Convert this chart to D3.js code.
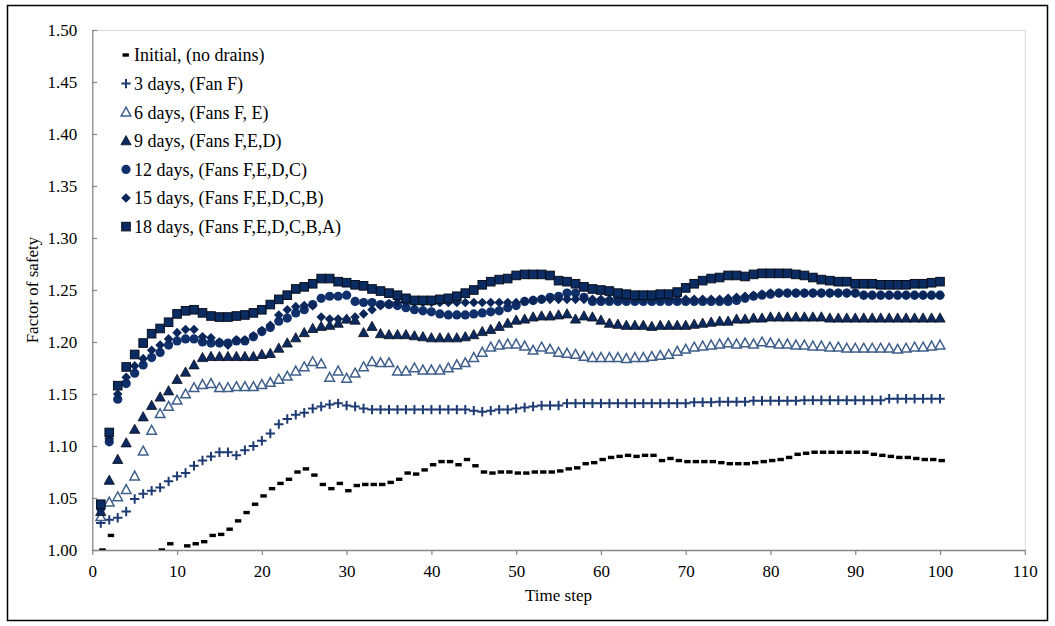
<!DOCTYPE html>
<html>
<head>
<meta charset="utf-8">
<script src="https://cdn.jsdelivr.net/npm/d3@7"></script>
<style>
  html, body { margin: 0; padding: 0; background: #fff; }
  svg { display: block; }
  text { font-family: "Liberation Serif", "Times New Roman", serif; fill: #000; }
</style>
</head>
<body>
<svg id="chart" width="1055" height="626"></svg>
<script>
// ---------- DATA ----------
const timeSteps = d3.range(1, 101);

const initialNoDrains = [
  1.000, 1.014, null, null, null, null, null, 1.000, 1.006, null,
  1.004, 1.006, 1.008, 1.014, 1.015, 1.020, 1.028, 1.036, 1.044, 1.052,
  1.059, 1.064, 1.068, 1.075, 1.078, 1.072, 1.063, 1.059, 1.064, 1.057,
  1.062, 1.063, 1.063, 1.063, 1.065, 1.068, 1.074, 1.073, 1.077, 1.082,
  1.085, 1.085, 1.082, 1.087, 1.081, 1.075, 1.074, 1.075, 1.075, 1.074,
  1.074, 1.075, 1.075, 1.075, 1.076, 1.078, 1.079, 1.083, 1.084, 1.087,
  1.089, 1.090, 1.091, 1.090, 1.091, 1.091, 1.086, 1.088, 1.086, 1.085,
  1.085, 1.085, 1.085, 1.084, 1.083, 1.083, 1.083, 1.084, 1.085, 1.086,
  1.087, 1.089, 1.092, 1.093, 1.094, 1.094, 1.094, 1.094, 1.094, 1.094,
  1.094, 1.092, 1.091, 1.090, 1.089, 1.089, 1.088, 1.087, 1.087, 1.086
];

const days3 = [
  1.026, 1.029, 1.031, 1.037, 1.049, 1.054, 1.057, 1.060, 1.066, 1.071,
  1.074, 1.081, 1.086, 1.090, 1.094, 1.094, 1.091, 1.096, 1.100, 1.105,
  1.112, 1.121, 1.126, 1.130, 1.132, 1.136, 1.138, 1.140, 1.141, 1.139,
  1.138, 1.136, 1.135, 1.135, 1.135, 1.135, 1.135, 1.135, 1.135, 1.135,
  1.135, 1.135, 1.135, 1.135, 1.134, 1.133, 1.134, 1.135, 1.135, 1.136,
  1.137, 1.138, 1.139, 1.139, 1.139, 1.141, 1.141, 1.141, 1.141, 1.141,
  1.141, 1.141, 1.141, 1.141, 1.141, 1.141, 1.141, 1.141, 1.141, 1.141,
  1.142, 1.142, 1.142, 1.1425, 1.1425, 1.1425, 1.1425, 1.1435, 1.1435, 1.1435,
  1.1435, 1.1435, 1.1435, 1.144, 1.144, 1.144, 1.144, 1.144, 1.144, 1.144,
  1.144, 1.144, 1.144, 1.1455, 1.1455, 1.1455, 1.1455, 1.1455, 1.1455, 1.1455
];

const days6 = [
  1.032, 1.046, 1.051, 1.058, 1.071, 1.095, 1.115, 1.131, 1.138, 1.144,
  1.150, 1.156, 1.159, 1.160, 1.156, 1.156, 1.157, 1.157, 1.157, 1.159,
  1.161, 1.164, 1.167, 1.172, 1.176, 1.181, 1.179, 1.166, 1.172, 1.165,
  1.170, 1.176, 1.181, 1.180, 1.180, 1.172, 1.172, 1.175, 1.173, 1.173,
  1.173, 1.175, 1.178, 1.180, 1.185, 1.190, 1.195, 1.197, 1.198, 1.198,
  1.196, 1.192, 1.195, 1.193, 1.190, 1.189, 1.188, 1.186, 1.185, 1.185,
  1.185, 1.185, 1.184, 1.185, 1.185, 1.186, 1.187, 1.188, 1.191, 1.193,
  1.195, 1.196, 1.197, 1.198, 1.199, 1.198, 1.199, 1.198, 1.200, 1.199,
  1.198, 1.198, 1.197, 1.197, 1.196, 1.196, 1.195, 1.195, 1.194, 1.194,
  1.194, 1.194, 1.194, 1.194, 1.193, 1.194, 1.195, 1.195, 1.196, 1.197
];

const days9 = [
  1.037, 1.067, 1.087, 1.103, 1.116, 1.128, 1.139, 1.147, 1.153, 1.164,
  1.171, 1.178, 1.185, 1.186, 1.186, 1.186, 1.186, 1.186, 1.186, 1.188,
  1.189, 1.194, 1.199, 1.204, 1.209, 1.213, 1.215, 1.216, 1.218, 1.222,
  1.221, 1.209, 1.215, 1.208, 1.207, 1.207, 1.207, 1.206, 1.205, 1.204,
  1.204, 1.204, 1.204, 1.205, 1.207, 1.210, 1.212, 1.215, 1.218, 1.221,
  1.222, 1.224, 1.225, 1.225, 1.226, 1.227, 1.222, 1.225, 1.224, 1.221,
  1.218, 1.217, 1.216, 1.216, 1.216, 1.215, 1.216, 1.216, 1.216, 1.216,
  1.217, 1.218, 1.219, 1.220, 1.220, 1.222, 1.222, 1.223, 1.223, 1.224,
  1.224, 1.224, 1.224, 1.224, 1.224, 1.224, 1.223, 1.223, 1.223, 1.223,
  1.223, 1.223, 1.223, 1.223, 1.223, 1.223, 1.223, 1.223, 1.223, 1.223
];

const days12 = [
  1.040, 1.104, 1.145, 1.160, 1.170, 1.178, 1.185, 1.190, 1.197, 1.201,
  1.203, 1.203, 1.200, 1.199, 1.199, 1.199, 1.201, 1.201, 1.205, 1.210,
  1.214, 1.220, 1.223, 1.228, 1.231, 1.236, 1.242, 1.244, 1.244, 1.245,
  1.239, 1.238, 1.238, 1.236, 1.236, 1.235, 1.233, 1.231, 1.230, 1.229,
  1.227, 1.226, 1.226, 1.226, 1.227, 1.228, 1.229, 1.230, 1.233, 1.235,
  1.239, 1.240, 1.241, 1.243, 1.244, 1.247, 1.247, 1.243, 1.239, 1.239,
  1.239, 1.239, 1.239, 1.239, 1.239, 1.239, 1.239, 1.239, 1.239, 1.239,
  1.239, 1.239, 1.239, 1.239, 1.239, 1.240, 1.242, 1.244, 1.245, 1.246,
  1.247, 1.247, 1.247, 1.247, 1.247, 1.247, 1.247, 1.247, 1.247, 1.247,
  1.245, 1.245, 1.245, 1.245, 1.245, 1.245, 1.245, 1.245, 1.245, 1.245
];

const days15 = [
  1.040, 1.107, 1.150, 1.166, 1.177, 1.184, 1.192, 1.197, 1.203, 1.209,
  1.212, 1.212, 1.205, 1.204, 1.200, 1.197, 1.202, 1.202, 1.206, 1.211,
  1.216, 1.226, 1.231, 1.234, 1.235, 1.235, 1.224, 1.222, 1.222, 1.222,
  1.224, 1.227, 1.231, 1.235, 1.237, 1.238, 1.238, 1.238, 1.238, 1.238,
  1.238, 1.238, 1.238, 1.238, 1.238, 1.238, 1.238, 1.238, 1.238, 1.238,
  1.239, 1.240, 1.241, 1.241, 1.241, 1.241, 1.241, 1.241, 1.241, 1.241,
  1.241, 1.241, 1.241, 1.241, 1.241, 1.241, 1.241, 1.241, 1.241, 1.241,
  1.241, 1.241, 1.241, 1.241, 1.242, 1.243, 1.244, 1.245, 1.246, 1.247,
  1.247, 1.247, 1.247, 1.247, 1.247, 1.247, 1.247, 1.247, 1.247, 1.247,
  1.245, 1.245, 1.245, 1.245, 1.245, 1.245, 1.245, 1.245, 1.245, 1.245
];

const days18 = [
  1.044, 1.113, 1.158, 1.176, 1.188, 1.199, 1.208, 1.213, 1.219, 1.227,
  1.230, 1.231, 1.228, 1.225, 1.224, 1.224, 1.225, 1.226, 1.228, 1.231,
  1.236, 1.241, 1.245, 1.251, 1.253, 1.256, 1.261, 1.261, 1.258, 1.257,
  1.255, 1.254, 1.251, 1.249, 1.247, 1.245, 1.242, 1.240, 1.240, 1.240,
  1.241, 1.242, 1.244, 1.247, 1.250, 1.255, 1.258, 1.260, 1.261, 1.264,
  1.265, 1.265, 1.265, 1.264, 1.259, 1.258, 1.256, 1.253, 1.251, 1.250,
  1.249, 1.247, 1.246, 1.245, 1.245, 1.245, 1.246, 1.246, 1.248, 1.252,
  1.256, 1.259, 1.261, 1.262, 1.264, 1.264, 1.263, 1.265, 1.266, 1.266,
  1.266, 1.266, 1.265, 1.264, 1.262, 1.260, 1.259, 1.258, 1.258, 1.256,
  1.256, 1.256, 1.255, 1.255, 1.255, 1.255, 1.256, 1.256, 1.257, 1.258
];

const seriesNames = [
  "Initial, (no drains)",
  "3 days, (Fan F)",
  "6 days, (Fans F, E)",
  "9 days, (Fans F,E,D)",
  "12 days, (Fans F,E,D,C)",
  "15 days, (Fans F,E,D,C,B)",
  "18 days, (Fans F,E,D,C,B,A)"
];
const seriesValues = [initialNoDrains, days3, days6, days9, days12, days15, days18];

const yTicks = [1.00, 1.05, 1.10, 1.15, 1.20, 1.25, 1.30, 1.35, 1.40, 1.45, 1.50];
const xTicks = [0, 10, 20, 30, 40, 50, 60, 70, 80, 90, 100, 110];
const xTitle = "Time step";
const yTitle = "Factor of safety";

// ---------- STYLE ----------
const markerStyles = [
  { kind: "dash" },
  { kind: "plus", color: "#1e3a72" },
  { kind: "triOpen", color: "#3f5f8b" },
  { kind: "triFill", color: "#0c2a5f" },
  { kind: "circle", color: "#10306c" },
  { kind: "diamond", color: "#0b2659" },
  { kind: "square", color: "#0b2b63" }
];

const plot = { left: 92.3, right: 1024.8, top: 30, bottom: 550 };

const svg = d3.select("#chart");

svg.append("rect").attr("x", 7.5).attr("y", 5.5).attr("width", 1040).attr("height", 615)
  .attr("fill", "#fff").attr("stroke", "#000").attr("stroke-width", 1.5);

const x = d3.scaleLinear().domain([0, 110]).range([plot.left, plot.right]);
const y = d3.scaleLinear().domain([1.0, 1.5]).range([plot.bottom, plot.top]);

svg.append("line").attr("x1", plot.left).attr("x2", plot.right).attr("y1", plot.top + 0.5).attr("y2", plot.top + 0.5)
  .attr("stroke", "#d9d9d9");
svg.append("line").attr("x1", plot.right + 0.5).attr("x2", plot.right + 0.5).attr("y1", plot.top).attr("y2", plot.bottom)
  .attr("stroke", "#d9d9d9");

const yAxis = d3.axisLeft(y).tickValues(yTicks).tickFormat(d3.format(".2f"))
  .tickSizeInner(-5).tickSizeOuter(0).tickPadding(15);
const gy = svg.append("g").attr("transform", `translate(${plot.left},0)`).call(yAxis);

const xAxis = d3.axisBottom(x).tickValues(xTicks).tickFormat(d3.format("d"))
  .tickSizeInner(5).tickSizeOuter(0).tickPadding(10);
const gx = svg.append("g").attr("transform", `translate(0,${plot.bottom})`).call(xAxis);

[gx, gy].forEach(g => {
  g.attr("font-family", "Liberation Serif, serif").attr("font-size", 17);
  g.selectAll("text").attr("font-size", 17).style("font-family", "'Liberation Serif', serif");
  g.select(".domain").attr("stroke", "#868686").attr("stroke-width", 1.3);
  g.selectAll(".tick line").attr("stroke", "#868686").attr("stroke-width", 1.2);
});

svg.append("text").attr("x", (plot.left + plot.right) / 2).attr("y", 601)
  .attr("text-anchor", "middle").attr("font-size", 17).text(xTitle);
svg.append("text").attr("transform", `translate(38,${(plot.top + plot.bottom) / 2}) rotate(-90)`)
  .attr("text-anchor", "middle").attr("font-size", 17).text(yTitle);

function drawMarker(g, kind, color) {
  switch (kind) {
    case "dash":
      g.append("rect").attr("x", -1.5).attr("y", -1.7).attr("width", 6.4).attr("height", 3.4).attr("fill", "#000");
      break;
    case "plus":
      g.append("path").attr("d", "M-4.7,0H4.7M0,-4.7V4.7").attr("stroke", color).attr("stroke-width", 2).attr("fill", "none");
      break;
    case "triOpen":
      g.append("path").attr("d", "M0,-5L4.8,3.8L-4.8,3.8Z").attr("fill", "#fff").attr("stroke", color).attr("stroke-width", 1.5);
      break;
    case "triFill":
      g.append("path").attr("d", "M0,-5.2L5.1,4L-5.1,4Z").attr("fill", color).attr("stroke", "#0a0f1c").attr("stroke-width", 0.8);
      break;
    case "circle":
      g.append("circle").attr("r", 4.6).attr("fill", color);
      break;
    case "diamond":
      g.append("path").attr("d", "M0,-4.8L4.8,0L0,4.8L-4.8,0Z").attr("fill", color);
      break;
    case "square":
      g.append("rect").attr("x", -4.3).attr("y", -4.3).attr("width", 8.6).attr("height", 8.6)
        .attr("fill", color).attr("stroke", "#0a0f1c").attr("stroke-width", 1);
      break;
  }
}

svg.append("clipPath").attr("id", "clip").append("rect")
  .attr("x", plot.left).attr("y", plot.top - 6).attr("width", plot.right - plot.left).attr("height", plot.bottom - plot.top + 6);

const marksG = svg.append("g").attr("clip-path", "url(#clip)");
seriesValues.forEach((vals, si) => {
  const st = markerStyles[si];
  const pts = timeSteps.map((t, i) => ({ t, v: vals[i] })).filter(d => d.v !== null);
  const sg = marksG.append("g");
  pts.forEach(d => {
    const g = sg.append("g").attr("transform", `translate(${x(d.t)},${y(d.v)})`);
    drawMarker(g, st.kind, st.color);
  });
});

const legend = svg.append("g");
const legY0 = 55, legStep = 28.6;
seriesNames.forEach((name, i) => {
  const yy = legY0 + i * legStep;
  const mg = legend.append("g").attr("transform", `translate(${i === 0 ? 124 : 126},${yy})`);
  drawMarker(mg, markerStyles[i].kind, markerStyles[i].color);
  legend.append("text").attr("x", 134).attr("y", yy).attr("dy", "0.35em")
    .attr("font-size", 18).text(name);
});
</script>
</body>
</html>
